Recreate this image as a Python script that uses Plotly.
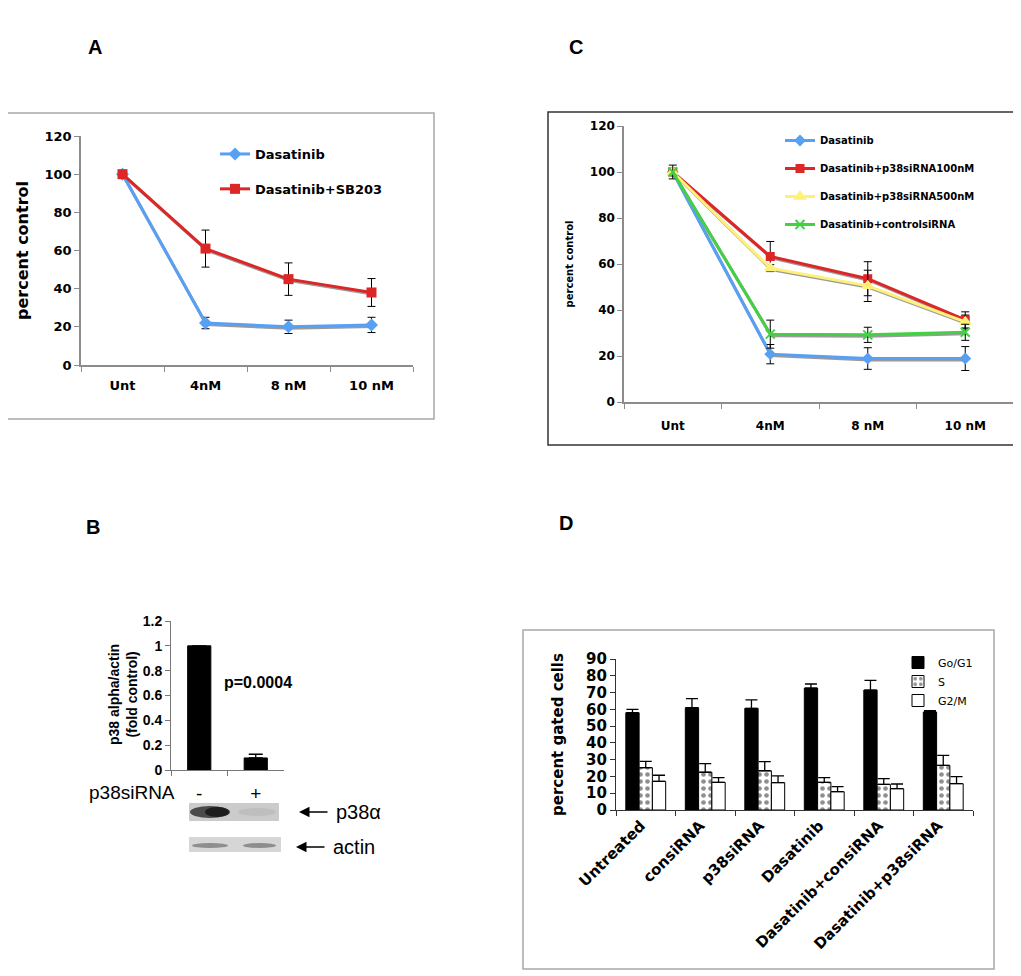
import plotly.graph_objects as go

# the page body adds an 8px margin; the figure is sized/placed so that page
# pixel coordinates map exactly onto the reference picture
OFF = 8
W, H = 1021 - OFF, 976 - OFF


def fx(px):
    return (px - OFF) / W


def fy(py):
    return 1 - (py - OFF) / H


# ---------------- data ----------------
cats = ["Unt", "4nM", "8 nM", "10 nM"]

a_dasatinib = [100, 22, 20, 21]
a_dasatinib_err = [0, 3, 3.5, 4]
a_sb203 = [100, 61, 45, 38]
a_sb203_err = [0, 9.7, 8.5, 7.3]

c_dasatinib = [100, 20.8, 18.9, 18.9]
c_dasatinib_err = [0, 4.2, 4.7, 5.2]
c_p38_100 = [100, 63.3, 53.6, 35.7]
c_p38_100_err = [0, 6.5, 7.4, 3.5]
c_p38_500 = [100, 58.2, 50.5, 34.8]
c_p38_500_err = [0, 1.5, 6.8, 3.0]
c_control = [100, 29.5, 29.2, 30.3]
c_control_err = [3, 6.1, 3.3, 3.5]

b_cats = ["-", "+"]
b_vals = [1.0, 0.097]
b_err = [0, 0.03]
b_ticks = [0, 0.2, 0.4, 0.6, 0.8, 1.0, 1.2]
b_ticktext = ["0", "0.2", "0.4", "0.6", "0.8", "1", "1.2"]

d_cats = ["Untreated", "consiRNA", "p38siRNA", "Dasatinib",
          "Dasatinib+consiRNA", "Dasatinib+p38siRNA"]
d_g1 = [58.0, 61.0, 60.6, 72.7, 71.5, 58.4]
d_g1_err = [2.0, 5.4, 5.0, 2.4, 5.8, 0.8]
d_s = [25.2, 22.5, 23.4, 16.5, 15.3, 26.6]
d_s_err = [3.8, 5.2, 5.4, 2.8, 3.4, 6.0]
d_g2m = [17.1, 16.5, 16.3, 10.9, 12.7, 15.7]
d_g2m_err = [3.6, 2.8, 4.0, 3.0, 2.8, 4.2]

# ---------------- styles ----------------
VER = "DejaVu Sans"
ARI = "Liberation Sans"
BLUE = "#58A0F4"
RED = "#DD2626"
YEL = "#FFF07A"
GRN = "#44D044"
SHADOW = "#9A9A9A"

fig = go.Figure()


def err(arr, w=4):
    return dict(type="data", array=arr, visible=True, color="black", thickness=1, width=w)


# ---- shadows (drawn first, lower axis ids) ----
for vals in (a_dasatinib, a_sb203):
    fig.add_trace(go.Scatter(x=cats, y=vals, xaxis="x", yaxis="y", mode="lines",
                             line=dict(color=SHADOW, width=3), showlegend=False,
                             hoverinfo="skip"))
for vals in (c_dasatinib, c_p38_100, c_p38_500, c_control):
    fig.add_trace(go.Scatter(x=cats, y=vals, xaxis="x2", yaxis="y2", mode="lines",
                             line=dict(color=SHADOW, width=3), showlegend=False,
                             hoverinfo="skip"))

# ---- Panel A ----
fig.add_trace(go.Scatter(x=cats, y=a_dasatinib, name="Dasatinib", xaxis="x3", yaxis="y3",
                         mode="lines+markers", line=dict(color=BLUE, width=3),
                         marker=dict(symbol="diamond", size=10, color=BLUE),
                         error_y=err(a_dasatinib_err), legend="legend"))
fig.add_trace(go.Scatter(x=cats, y=a_sb203, name="Dasatinib+SB203", xaxis="x3", yaxis="y3",
                         mode="lines+markers", line=dict(color=RED, width=3),
                         marker=dict(symbol="square", size=10, color=RED),
                         error_y=err(a_sb203_err), legend="legend"))

# ---- Panel C ----
for vals, e, name, col, sym, sz in [
    (c_dasatinib, c_dasatinib_err, "Dasatinib", BLUE, "diamond", 7),
    (c_p38_100, c_p38_100_err, "Dasatinib+p38siRNA100nM", RED, "square", 7),
    (c_p38_500, c_p38_500_err, "Dasatinib+p38siRNA500nM", YEL, "triangle-up", 9),
    (c_control, c_control_err, "Dasatinib+controlsiRNA", GRN, "x-thin", 9),
]:
    fig.add_trace(go.Scatter(x=cats, y=vals, name=name, xaxis="x4", yaxis="y4",
                             mode="lines+markers", line=dict(color=col, width=3),
                             marker=dict(symbol=sym, size=sz, color=col,
                                         line=dict(color=col, width=2)),
                             error_y=err(e), legend="legend2"))

# ---- Panel B ----
fig.add_trace(go.Bar(x=b_cats, y=b_vals, xaxis="x5", yaxis="y5", width=0.41,
                     marker=dict(color="black", line=dict(color="black", width=1)),
                     error_y=dict(type="data", array=b_err, arrayminus=[0, 0], symmetric=False,
                                  color="black", thickness=1.3, width=7),
                     showlegend=False))

# ---- Panel D ----
fig.add_trace(go.Bar(x=d_cats, y=d_g1, name="Go/G1", xaxis="x6", yaxis="y6",
                     marker=dict(color="black", line=dict(color="black", width=1)),
                     error_y=dict(type="data", array=d_g1_err, arrayminus=[0] * 6,
                                  symmetric=False, color="black", thickness=1.3, width=6),
                     legend="legend3"))
fig.add_trace(go.Bar(x=d_cats, y=d_s, name="S", xaxis="x6", yaxis="y6",
                     marker=dict(color="white", line=dict(color="black", width=1),
                                 pattern=dict(shape=".", fgcolor="#202020", size=7,
                                              solidity=0.35)),
                     error_y=dict(type="data", array=d_s_err, arrayminus=[0] * 6,
                                  symmetric=False, color="black", thickness=1.3, width=6),
                     legend="legend3"))
fig.add_trace(go.Bar(x=d_cats, y=d_g2m, name="G2/M", xaxis="x6", yaxis="y6",
                     marker=dict(color="white", line=dict(color="black", width=1)),
                     error_y=dict(type="data", array=d_g2m_err, arrayminus=[0] * 6,
                                  symmetric=False, color="black", thickness=1.3, width=6),
                     legend="legend3"))

# ---------------- axes ----------------
AXC = "#8C8C8C"
tf_a = dict(family=VER, size=13, color="black", weight="bold")
tf_c = dict(family=VER, size=12, color="black", weight="bold")

sh = 1.5  # shadow offset px

layout_axes = dict(
    # shadows
    xaxis=dict(domain=[fx(81 + 1), fx(413 + 1)], anchor="y", visible=False,
               type="category", range=[-0.5, 3.5]),
    yaxis=dict(domain=[fy(365 + sh), fy(136 + sh)], anchor="x", visible=False,
               range=[0, 120]),
    xaxis2=dict(domain=[fx(624 + 1), fx(1014 + 1)], anchor="y2", visible=False,
                type="category", range=[-0.5, 3.5]),
    yaxis2=dict(domain=[fy(402 + sh), fy(126 + sh)], anchor="x2", visible=False,
                range=[0, 120]),
    # A
    xaxis3=dict(domain=[fx(81), fx(413)], anchor="y3", type="category", range=[-0.5, 3.5],
                showline=True, linecolor=AXC, linewidth=1.5, ticks="outside",
                tickson="boundaries", ticklen=5, tickcolor=AXC, tickfont=tf_a,
                showgrid=False, zeroline=False, ticklabelstandoff=8),
    yaxis3=dict(domain=[fy(365), fy(136)], anchor="x3", range=[0, 120], dtick=20,
                showline=True, linecolor=AXC, linewidth=1.5, ticks="outside", ticklen=5,
                tickcolor=AXC, tickfont=tf_a, showgrid=False, zeroline=False,
                title=dict(text="percent control", font=dict(family=VER, size=16,
                                                             color="black", weight="bold"),
                           standoff=12)),
    # C
    xaxis4=dict(domain=[fx(624), fx(1014)], anchor="y4", type="category",
                range=[-0.5, 3.5], showline=True, linecolor=AXC, linewidth=1.5,
                ticks="outside", tickson="boundaries", ticklen=5, tickcolor=AXC,
                tickfont=tf_c, showgrid=False, zeroline=False, ticklabelstandoff=12),
    yaxis4=dict(domain=[fy(402), fy(126)], anchor="x4", range=[0, 120], dtick=20,
                showline=True, linecolor=AXC, linewidth=1.5, ticks="outside", ticklen=5,
                tickcolor=AXC, tickfont=tf_c, showgrid=False, zeroline=False,
                title=dict(text="percent control", font=dict(family=VER, size=10,
                                                             color="black", weight="bold"),
                           standoff=14)),
    # B
    xaxis5=dict(domain=[fx(171), fx(284)], anchor="y5", type="category",
                range=[-0.5, 1.5], showline=True, linecolor="#777", linewidth=1,
                ticks="outside", tickson="boundaries", ticklen=5, tickcolor="#777",
                tickfont=dict(family=ARI, size=19, color="black"), showgrid=False,
                ticklabelstandoff=6),
    yaxis5=dict(domain=[fy(770), fy(621)], anchor="x5", range=[0, 1.2], tickvals=b_ticks,
                ticktext=b_ticktext, showline=True, linecolor="#777", linewidth=1,
                ticks="outside", ticklen=5, tickcolor="#777",
                tickfont=dict(family=ARI, size=14, color="black", weight="bold"),
                showgrid=False, zeroline=False),
    # D
    xaxis6=dict(domain=[fx(616), fx(973)], anchor="y6", type="category",
                showline=True, linecolor="#333", linewidth=1.2, ticks="outside",
                tickson="boundaries", ticklen=5, tickcolor="#333", tickangle=-45,
                tickfont=dict(family=VER, size=15, color="black", weight="bold"),
                showgrid=False, ticklabelstandoff=0, ticklabelshift=-5),
    yaxis6=dict(domain=[fy(810), fy(659)], anchor="x6", range=[0, 90], dtick=10,
                showline=True, linecolor="#333", linewidth=1.2, ticks="outside",
                ticklen=5, tickcolor="#333",
                tickfont=dict(family=VER, size=15, color="black", weight="bold"),
                showgrid=False, zeroline=False,
                title=dict(text="percent gated cells",
                           font=dict(family=VER, size=15, color="black", weight="bold"),
                           standoff=18)),
)
for k in layout_axes:
    layout_axes[k]["automargin"] = False

shapes = [
    # panel frames
    dict(type="rect", xref="paper", yref="paper", x0=fx(4), x1=fx(434), y0=fy(419),
         y1=fy(113), line=dict(color="#A8A8A8", width=1.5)),
    dict(type="rect", xref="paper", yref="paper", x0=fx(548), x1=fx(1014), y0=fy(445),
         y1=fy(112), line=dict(color="#333333", width=1.5)),
    dict(type="rect", xref="paper", yref="paper", x0=fx(523), x1=fx(994), y0=fy(969),
         y1=fy(630), line=dict(color="#A8A8A8", width=1.5)),
    # western blot: p38 alpha strip
    dict(type="rect", xref="paper", yref="paper", x0=fx(189), x1=fx(279), y0=fy(821),
         y1=fy(803), line=dict(width=0), fillcolor="#CBCBCB"),
    dict(type="circle", xref="paper", yref="paper", x0=fx(190), x1=fx(230), y0=fy(818),
         y1=fy(806), line=dict(width=0), fillcolor="#4A4A4A"),
    dict(type="circle", xref="paper", yref="paper", x0=fx(205), x1=fx(229), y0=fy(817),
         y1=fy(807), line=dict(width=0), fillcolor="#1E1E1E"),
    dict(type="circle", xref="paper", yref="paper", x0=fx(238), x1=fx(276), y0=fy(816),
         y1=fy(808), line=dict(width=0), fillcolor="#BEBEBE"),
    # actin strip
    dict(type="rect", xref="paper", yref="paper", x0=fx(189), x1=fx(281), y0=fy(852),
         y1=fy(837), line=dict(width=0), fillcolor="#D6D6D6"),
    dict(type="circle", xref="paper", yref="paper", x0=fx(192), x1=fx(228), y0=fy(848),
         y1=fy(843), line=dict(width=0), fillcolor="#8E8E8E"),
    dict(type="circle", xref="paper", yref="paper", x0=fx(243), x1=fx(276), y0=fy(848),
         y1=fy(843), line=dict(width=0), fillcolor="#8E8E8E"),
]


def note(text, px, py, xa="center", ya="middle", **kw):
    return dict(text=text, x=fx(px), y=fy(py), xref="paper", yref="paper",
                xanchor=xa, yanchor=ya, showarrow=False, **kw)


letter_font = dict(family=ARI, size=20, color="black", weight="bold")
annotations = [
    note("A", 95, 47, font=letter_font),
    note("C", 576, 47, font=letter_font),
    note("B", 93, 527, font=letter_font),
    note("D", 566, 523, font=letter_font),
    # panel B y-axis title
    note("p38 alpha/actin<br>(fold control)", 123, 695, textangle=-90,
         font=dict(family=ARI, size=14, color="black", weight="bold")),
    note("p=0.0004", 222, 682, xa="left",
         font=dict(family=ARI, size=16, color="black", weight="bold")),
    note("p38siRNA", 177, 792, xa="right",
         font=dict(family=ARI, size=19, color="black")),
    dict(text="", x=fx(299), y=fy(812), xref="paper", yref="paper", ax=30, ay=0,
         showarrow=True, arrowhead=2, arrowsize=1.4, arrowwidth=1.5, arrowcolor="black"),
    note("p38α", 334, 812, xa="left", font=dict(family=ARI, size=20, color="black")),
    dict(text="", x=fx(296), y=fy(847), xref="paper", yref="paper", ax=30, ay=0,
         showarrow=True, arrowhead=2, arrowsize=1.4, arrowwidth=1.5, arrowcolor="black"),
    note("actin", 331, 847, xa="left", font=dict(family=ARI, size=20, color="black")),
]

fig.update_layout(
    width=W, height=H, margin=dict(l=0, r=0, t=0, b=0, autoexpand=False),
    paper_bgcolor="white", plot_bgcolor="rgba(0,0,0,0)",
    barmode="group", bargap=0.33, bargroupgap=0,
    shapes=shapes, annotations=annotations,
    legend=dict(x=fx(215), y=fy(139), xanchor="left", yanchor="top",
                bgcolor="rgba(0,0,0,0)", tracegroupgap=15,
                font=dict(family=VER, size=13, color="black", weight="bold")),
    legend2=dict(x=fx(780), y=fy(126), xanchor="left", yanchor="top",
                 bgcolor="rgba(0,0,0,0)", tracegroupgap=9,
                 font=dict(family=VER, size=10, color="black", weight="bold")),
    legend3=dict(x=fx(898), y=fy(648), xanchor="left", yanchor="top",
                 bgcolor="rgba(0,0,0,0)", tracegroupgap=0,
                 font=dict(family=VER, size=11, color="black")),
    **layout_axes,
)

# separate legend groups so tracegroupgap spaces the items
for i, tr in enumerate(fig.data):
    if tr.showlegend is not False:
        tr.legendgroup = f"g{i}"

fig.write_html("out.html")
